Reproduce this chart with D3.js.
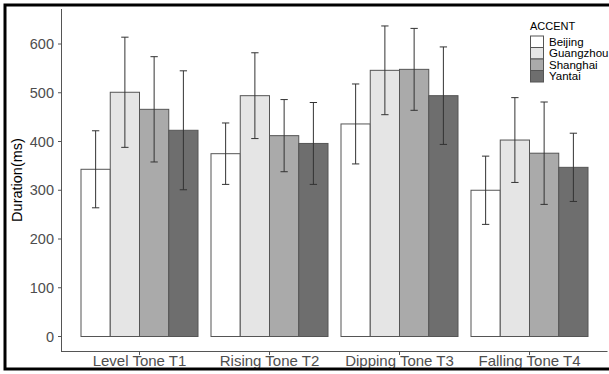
<!DOCTYPE html>
<html>
<head>
<meta charset="utf-8">
<script src="https://cdn.jsdelivr.net/npm/d3@7"></script>
<style>
  body { margin: 0; background: #fff; }
  svg { display: block; font-family: "Liberation Sans", Arial, sans-serif; }
</style>
</head>
<body>
<div id="chart"></div>
<script>
// categories on the x axis
var tones = ["Level Tone T1", "Rising Tone T2", "Dipping Tone T3", "Falling Tone T4"];
var accents = ["Beijing", "Guangzhou", "Shanghai", "Yantai"];

// mean duration (ms) per accent, in tone order
var beijingMean = [343, 375, 436, 300];
var guangzhouMean = [501, 494, 546, 403];
var shanghaiMean = [466, 412, 548, 376];
var yantaiMean = [423, 396, 494, 347];

// error bar half widths
var beijingErr = [79, 63, 82, 70];
var guangzhouErr = [113, 88, 91, 87];
var shanghaiErr = [108, 74, 84, 105];
var yantaiErr = [122, 84, 100, 70];

var yTicks = [0, 100, 200, 300, 400, 500, 600];

var means = [beijingMean, guangzhouMean, shanghaiMean, yantaiMean];
var errs = [beijingErr, guangzhouErr, shanghaiErr, yantaiErr];

var rows = [];
tones.forEach(function (t, i) {
    accents.forEach(function (a, j) {
        rows.push({ tone: t, accent: a, mean: means[j][i], err: errs[j][i] });
    });
});

var width = 609, height = 374;

var svg = d3.select("#chart").append("svg")
    .attr("width", width)
    .attr("height", height);

var xScale = d3.scaleBand()
    .domain(tones)
    .range([61.5, 607.5])
    .paddingInner(0.1)
    .paddingOuter(0.15);

var xInner = d3.scaleBand()
    .domain(accents)
    .range([0, xScale.bandwidth()]);

var yScale = d3.scaleLinear()
    .domain([0, 600])
    .range([336.5, 44]);

var color = d3.scaleOrdinal()
    .domain(accents)
    .range(["#ffffff", "#e5e5e5", "#aaaaaa", "#6e6e6e"]);

// axes lines
svg.append("line")
    .attr("x1", 61.5).attr("x2", 61.5)
    .attr("y1", 9).attr("y2", 352)
    .attr("stroke", "#555").attr("stroke-width", 1);
svg.append("line")
    .attr("x1", 61.5).attr("x2", 607.5)
    .attr("y1", 351.5).attr("y2", 351.5)
    .attr("stroke", "#555").attr("stroke-width", 1);

// y ticks
var yAxis = svg.append("g");
yAxis.selectAll("line")
    .data(yTicks).enter().append("line")
    .attr("x1", 58).attr("x2", 61.5)
    .attr("y1", d => yScale(d)).attr("y2", d => yScale(d))
    .attr("stroke", "#555");
yAxis.selectAll("text")
    .data(yTicks).enter().append("text")
    .attr("x", 54)
    .attr("y", d => yScale(d))
    .attr("dy", "0.36em")
    .attr("text-anchor", "end")
    .attr("font-size", 14.5)
    .attr("fill", "#4d4d4d")
    .text(d => d);

// x ticks
var xAxis = svg.append("g");
xAxis.selectAll("line")
    .data(tones).enter().append("line")
    .attr("x1", d => xScale(d) + xScale.bandwidth() / 2)
    .attr("x2", d => xScale(d) + xScale.bandwidth() / 2)
    .attr("y1", 351.5).attr("y2", 355)
    .attr("stroke", "#555");
xAxis.selectAll("text")
    .data(tones).enter().append("text")
    .attr("x", d => xScale(d) + xScale.bandwidth() / 2)
    .attr("y", 366)
    .attr("text-anchor", "middle")
    .attr("font-size", 15)
    .attr("fill", "#4d4d4d")
    .text(d => d);

// y title
svg.append("text")
    .attr("transform", "translate(22,180) rotate(-90)")
    .attr("text-anchor", "middle")
    .attr("font-size", 14.5)
    .attr("fill", "#000")
    .text("Duration(ms)");

// bars
svg.append("g").selectAll("rect")
    .data(rows).enter().append("rect")
    .attr("x", d => xScale(d.tone) + xInner(d.accent))
    .attr("y", d => yScale(d.mean))
    .attr("width", xInner.bandwidth())
    .attr("height", d => yScale(0) - yScale(d.mean))
    .attr("fill", d => color(d.accent))
    .attr("stroke", "#555")
    .attr("stroke-width", 1);

// error bars
var capW = xInner.bandwidth() * 0.25;
var eb = svg.append("g").attr("stroke", "#333").attr("stroke-width", 1);
rows.forEach(function (d) {
    var cx = xScale(d.tone) + xInner(d.accent) + xInner.bandwidth() / 2;
    var top = yScale(d.mean + d.err), bot = yScale(d.mean - d.err);
    eb.append("line").attr("x1", cx).attr("x2", cx).attr("y1", top).attr("y2", bot);
    eb.append("line").attr("x1", cx - capW / 2).attr("x2", cx + capW / 2).attr("y1", top).attr("y2", top);
    eb.append("line").attr("x1", cx - capW / 2).attr("x2", cx + capW / 2).attr("y1", bot).attr("y2", bot);
});

// legend
var legend = svg.append("g").attr("transform", "translate(530,22)");
legend.append("text")
    .attr("x", 0).attr("y", 7.5)
    .attr("font-size", 11)
    .text("ACCENT");
var items = legend.selectAll(".item")
    .data(accents).enter().append("g")
    .attr("transform", (d, i) => "translate(0," + (14 + i * 11.5) + ")");
items.append("rect")
    .attr("x", 0.5).attr("y", 0)
    .attr("width", 13).attr("height", 11.5)
    .attr("fill", d => color(d))
    .attr("stroke", "#555");
items.append("text")
    .attr("x", 19).attr("y", 5.75)
    .attr("dy", "0.36em")
    .attr("font-size", 11.5)
    .text(d => d);

// outer frame
svg.append("rect")
    .attr("x", 5).attr("y", 5)
    .attr("width", 700).attr("height", 364)
    .attr("fill", "none")
    .attr("stroke", "#000")
    .attr("stroke-width", 3);
</script>
</body>
</html>
